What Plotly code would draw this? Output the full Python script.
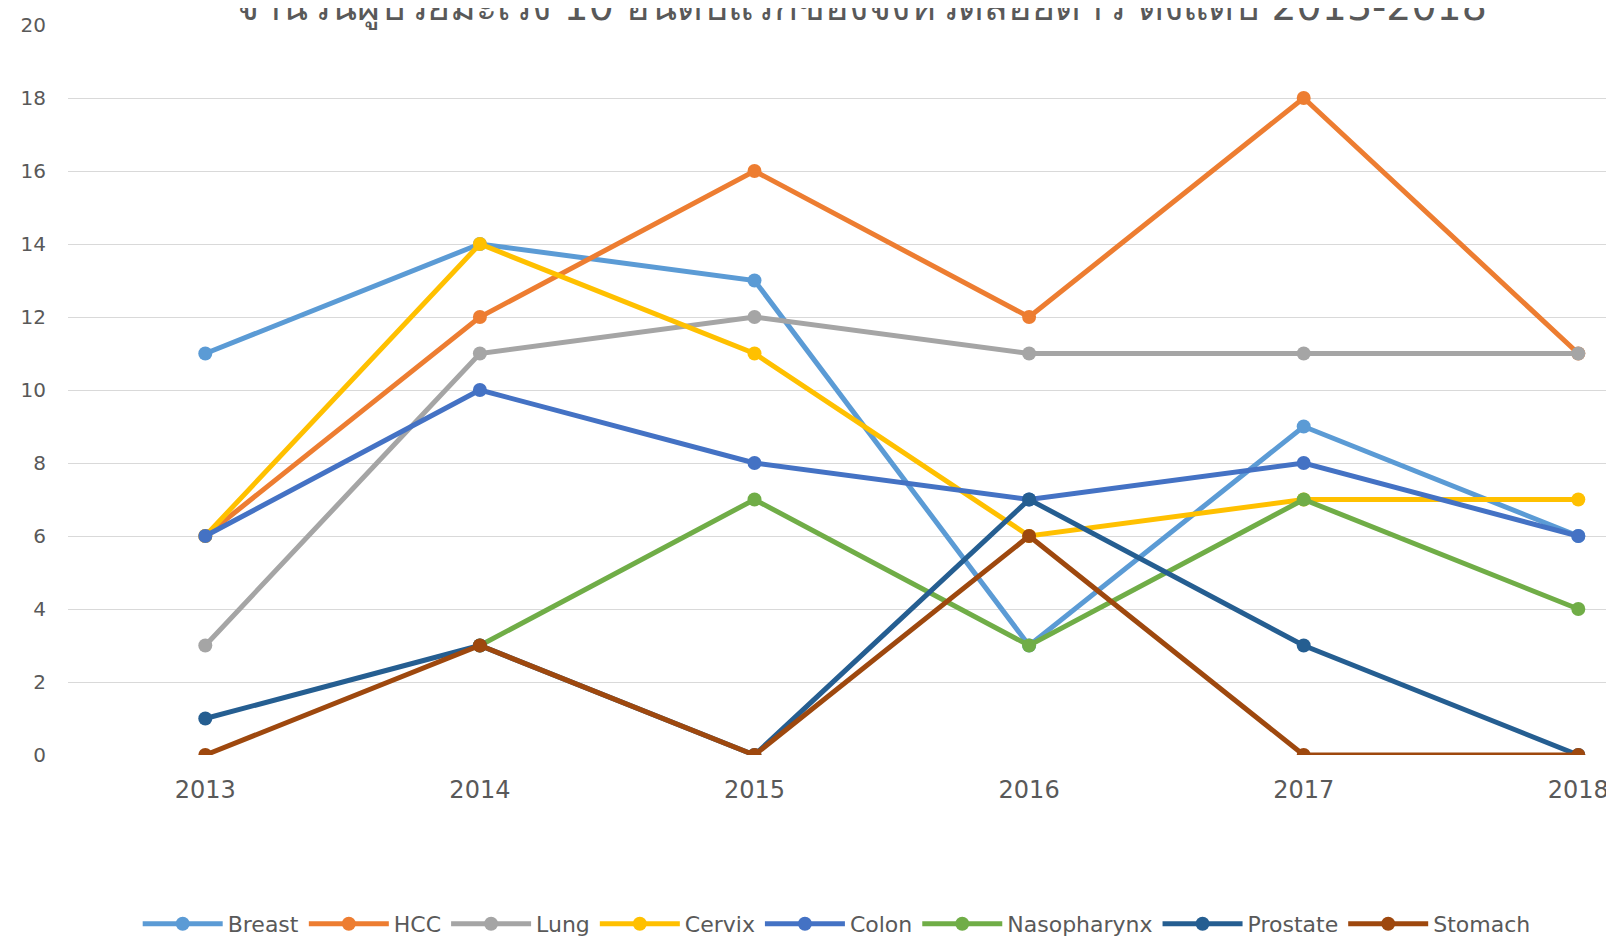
import plotly.graph_objects as go

years = ["2013", "2014", "2015", "2016", "2017", "2018"]

breast = [11, 14, 13, 3, 9, 6]
hcc = [6, 12, 16, 12, 18, 11]
lung = [3, 11, 12, 11, 11, 11]
cervix = [6, 14, 11, 6, 7, 7]
colon = [6, 10, 8, 7, 8, 6]
nasopharynx = [None, 3, 7, 3, 7, 4]
prostate = [1, 3, 0, 7, 3, 0]
stomach = [0, 3, 0, 6, 0, 0]

series_names = ["Breast", "HCC", "Lung", "Cervix", "Colon", "Nasopharynx", "Prostate", "Stomach"]
series_values = [breast, hcc, lung, cervix, colon, nasopharynx, prostate, stomach]
colors = ["#5B9BD5", "#ED7D31", "#A5A5A5", "#FFC000", "#4472C4", "#70AD47", "#255E91", "#9E480E"]

title_text = "จำนวนผู้ป่วยมะเร็ง 10 อันดับแรกของจังหวัดสอยดาว ตั้งแต่ปี 2013-2018"

fig = go.Figure()
for name, vals, col in zip(series_names, series_values, colors):
    fig.add_trace(go.Scatter(
        x=years, y=vals, name=name, mode="lines+markers",
        line=dict(color=col, width=5),
        marker=dict(color=col, size=14),
        connectgaps=False,
    ))

fig.update_layout(
    width=1606, height=931,
    paper_bgcolor="white", plot_bgcolor="white",
    margin=dict(l=60, r=0, t=17, b=184, pad=0),
    font=dict(family="DejaVu Sans", color="#595959"),
    showlegend=True,
    legend=dict(
        orientation="h", xref="container", yref="container",
        x=0.516, xanchor="center", y=0.0161, yanchor="middle",
        font=dict(size=22, color="#595959", family="DejaVu Sans"),
        itemwidth=80, traceorder="normal",
    ),
    annotations=[dict(
        text=title_text, xref="paper", yref="paper",
        x=0.513, xanchor="center", y=1.0289, yanchor="middle",
        showarrow=False,
        font=dict(size=39.5, color="#595959", family="DejaVu Sans"),
    )],
)

fig.update_xaxes(
    type="category", range=[-0.5, 5.13],
    showgrid=False, showline=False, zeroline=False,
    tickfont=dict(size=24, color="#595959"),
    ticks="", ticklabelstandoff=18,
)
fig.update_yaxes(
    range=[0, 20], dtick=2, tick0=0,
    showgrid=True, gridcolor="#D9D9D9", gridwidth=1,
    showline=False, zeroline=False,
    tickfont=dict(size=20, color="#595959"),
    ticks="", ticklabelstandoff=21,
)

fig.write_html("out.html")
